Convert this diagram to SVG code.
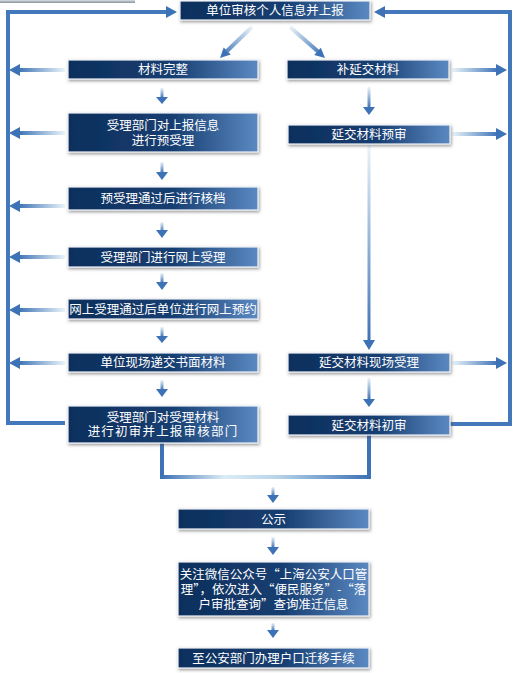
<svg xmlns="http://www.w3.org/2000/svg" width="523" height="673" viewBox="0 0 523 673">
<defs>
<linearGradient id="boxG" x1="0" y1="0" x2="1" y2="0">
<stop offset="0" stop-color="#0e2f5c"/><stop offset="0.55" stop-color="#163e71"/><stop offset="1" stop-color="#5b89c2"/>
</linearGradient>
<linearGradient id="gL" x1="0" y1="0" x2="1" y2="0">
<stop offset="0" stop-color="#3d72b6"/><stop offset="1" stop-color="#eaf4f9"/>
</linearGradient>
<linearGradient id="gR" x1="0" y1="0" x2="1" y2="0">
<stop offset="0" stop-color="#eaf4f9"/><stop offset="1" stop-color="#3d72b6"/>
</linearGradient>
<linearGradient id="gD" x1="0" y1="0" x2="0" y2="1">
<stop offset="0" stop-color="#eaf4f9"/><stop offset="1" stop-color="#3d72b6"/>
</linearGradient>
<linearGradient id="gDiagL" gradientUnits="userSpaceOnUse" x1="252" y1="27" x2="222" y2="56">
<stop offset="0" stop-color="#eaf4f9"/><stop offset="1" stop-color="#3d72b6"/>
</linearGradient>
<linearGradient id="gDiagR" gradientUnits="userSpaceOnUse" x1="290" y1="27" x2="322" y2="56">
<stop offset="0" stop-color="#eaf4f9"/><stop offset="1" stop-color="#3d72b6"/>
</linearGradient>
<linearGradient id="gBottom" gradientUnits="userSpaceOnUse" x1="162" y1="0" x2="369" y2="0">
<stop offset="0" stop-color="#3d72b6"/><stop offset="0.3" stop-color="#dcecf5"/><stop offset="0.55" stop-color="#b9d5ea"/><stop offset="1" stop-color="#3d72b6"/>
</linearGradient>
<linearGradient id="gShadow" x1="0" y1="0" x2="0" y2="1">
<stop offset="0" stop-color="#d8dde3"/><stop offset="1" stop-color="#8a9199"/>
</linearGradient>
<filter id="sh" x="-10%" y="-30%" width="120%" height="160%">
<feDropShadow dx="1" dy="1.5" stdDeviation="1.5" flood-color="#444" flood-opacity="0.55"/>
</filter>
</defs>
<style>
.box{fill:url(#boxG);stroke:#eef2f7;stroke-width:1.2;filter:url(#sh)}
.t{fill:#ffffff;font-family:"Noto Sans CJK SC","Noto Sans CJK TC",sans-serif;font-size:12.5px;text-anchor:middle}
.s{fill:#12427f;fill-opacity:0;}
.line{fill:none;stroke:#4378bb;stroke-width:4}
.head{fill:#3d72b6}
</style>
<rect x="0" y="0" width="135" height="3" fill="url(#gShadow)"/>
<g id="connectors">
<path class="line" d="M65 423 H8 V12 H168"/>
<polygon class="head" points="166,6 177,12 166,18"/>
<path class="line" d="M450 424 H510 V12 H384"/>
<polygon class="head" points="385,6 374,12 385,18"/>
<path d="M162 443 V477 H369 V435" fill="none" stroke="url(#gBottom)" stroke-width="4"/>
<line x1="252" y1="27" x2="227" y2="51" stroke="url(#gDiagL)" stroke-width="4"/>
<polygon class="head" points="220,58 230.7,54.6 223.7,47.4"/>
<line x1="290" y1="27" x2="318" y2="51.5" stroke="url(#gDiagR)" stroke-width="4"/>
<polygon class="head" points="325,58 314.2,55.1 320.8,47.7"/>
<rect x="367.5" y="145" width="3" height="196" fill="url(#gD)"/>
<polygon class="head" points="363,340 375,340 369,350"/>
<!-- left side arrows -->
<rect x="18" y="68" width="47" height="4" fill="url(#gL)"/><polygon class="head" points="9,70 20,64 20,76"/>
<rect x="18" y="131" width="47" height="4" fill="url(#gL)"/><polygon class="head" points="9,133 20,127 20,139"/>
<rect x="18" y="204" width="47" height="4" fill="url(#gL)"/><polygon class="head" points="9,206 20,200 20,212"/>
<rect x="18" y="255" width="47" height="4" fill="url(#gL)"/><polygon class="head" points="9,257 20,251 20,263"/>
<rect x="18" y="308" width="47" height="4" fill="url(#gL)"/><polygon class="head" points="9,310 20,304 20,316"/>
<rect x="18" y="361" width="47" height="4" fill="url(#gL)"/><polygon class="head" points="9,363 20,357 20,369"/>
<!-- right side arrows -->
<rect x="452" y="68" width="46" height="4" fill="url(#gR)"/><polygon class="head" points="507,70 496,64 496,76"/>
<rect x="452" y="132" width="46" height="4" fill="url(#gR)"/><polygon class="head" points="507,134 496,128 496,140"/>
<rect x="452" y="361" width="46" height="4" fill="url(#gR)"/><polygon class="head" points="507,363 496,357 496,369"/>
<!-- small down arrows -->
<rect x="160.5" y="88" width="3" height="10" fill="url(#gD)"/><polygon class="head" points="156,97 168,97 162,104"/>
<rect x="367.5" y="87" width="3" height="21" fill="url(#gD)"/><polygon class="head" points="363,107 375,107 369,115"/>
<rect x="160.5" y="162" width="3" height="11" fill="url(#gD)"/><polygon class="head" points="156,172 168,172 162,180"/>
<rect x="160.5" y="222" width="3" height="10" fill="url(#gD)"/><polygon class="head" points="156,230 168,230 162,238"/>
<rect x="160.5" y="273" width="3" height="10" fill="url(#gD)"/><polygon class="head" points="156,282 168,282 162,290"/>
<rect x="160.5" y="327" width="3" height="10" fill="url(#gD)"/><polygon class="head" points="156,336 168,336 162,343"/>
<rect x="160.5" y="380" width="3" height="10" fill="url(#gD)"/><polygon class="head" points="156,389 168,389 162,397"/>
<rect x="367.5" y="378" width="3" height="22" fill="url(#gD)"/><polygon class="head" points="363,399 375,399 369,407"/>
<rect x="271.5" y="487" width="3" height="9" fill="url(#gD)"/><polygon class="head" points="267,495 279,495 273,503"/>
<rect x="271.5" y="537" width="3" height="11" fill="url(#gD)"/><polygon class="head" points="267,547 279,547 273,555"/>
<rect x="271.5" y="623" width="3" height="8" fill="url(#gD)"/><polygon class="head" points="267,630 279,630 273,638"/>
</g>
<g id="n1"><rect class="box" x="180" y="1" width="190" height="19"/><text class="t" x="275" y="15">单位审核个人信息并上报</text></g>
<g id="n2"><rect class="box" x="68" y="60" width="190" height="19"/><text class="t" x="163" y="74">材料完整</text></g>
<g id="n3"><rect class="box" x="287" y="60" width="162" height="19"/><text class="t" x="368" y="74">补延交材料</text></g>
<g id="n4"><rect class="box" x="68" y="113" width="190" height="39"/><text class="t" x="163" y="129.5">受理部门对上报信息</text><text class="t" x="163" y="144.5">进行预受理</text></g>
<g id="n5"><rect class="box" x="288" y="125" width="162" height="19"/><text class="t" x="369" y="139">延交材料预审</text></g>
<g id="n6"><rect class="box" x="68" y="187" width="190" height="23"/><text class="t" x="163" y="203">预受理通过后进行核档</text></g>
<g id="n7"><rect class="box" x="68" y="247" width="190" height="20"/><text class="t" x="163" y="261.5">受理部门进行网上受理</text></g>
<g id="n8"><rect class="box" x="68" y="299" width="190" height="20"/><text class="t" x="163" y="313.5">网上受理通过后单位进行网上预约</text></g>
<g id="n9"><rect class="box" x="68" y="353" width="190" height="19"/><text class="t" x="163" y="367">单位现场递交书面材料</text></g>
<g id="n10"><rect class="box" x="288" y="353" width="162" height="19"/><text class="t" x="369" y="367">延交材料现场受理</text></g>
<g id="n11"><rect class="box" x="68" y="406" width="190" height="37"/><text class="t" x="163" y="421.5">受理部门对受理材料</text><text class="t" x="163" y="435.5" letter-spacing="1.2">进行初审并上报审核部门</text></g>
<g id="n12"><rect class="box" x="288" y="415" width="162" height="20"/><text class="t" x="369" y="429.5">延交材料初审</text></g>
<g id="n13"><rect class="box" x="178" y="509" width="191" height="20"/><text class="t" x="273.5" y="523.5">公示</text></g>
<g id="n14"><rect class="box" x="178" y="562" width="191" height="54"/>
<text class="t" x="273.5" y="579" font-size="12">关注微信公众号“上海公安人口管</text>
<text class="t" x="273.5" y="594" font-size="12">理”，依次进入“便民服务”-“落</text>
<text class="t" x="273.5" y="609" font-size="12">户审批查询”查询准迁信息</text></g>
<g id="n15"><rect class="box" x="178" y="648" width="191" height="20"/><text class="t" x="273.5" y="662.5">至公安部门办理户口迁移手续</text></g>
</svg>
